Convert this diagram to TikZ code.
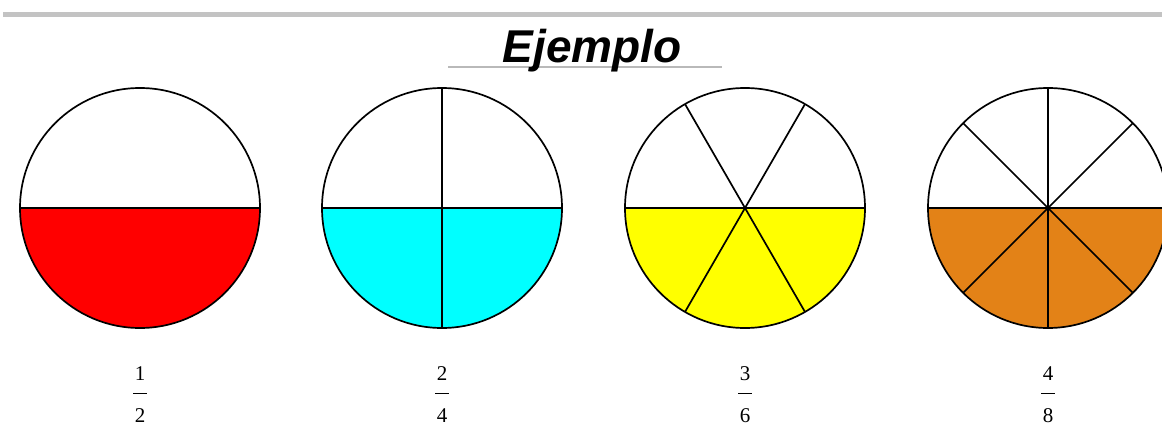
\documentclass[tikz,border=0pt]{standalone}
\usepackage{fontspec}
\setmainfont{Liberation Serif}
\newfontfamily\titlefont{Liberation Sans}
\definecolor{barGray}{RGB}{195,195,195}
\definecolor{lineGray}{RGB}{185,185,185}
\definecolor{pieRed}{RGB}{255,0,0}
\definecolor{pieCyan}{RGB}{0,255,255}
\definecolor{pieYellow}{RGB}{255,255,0}
\definecolor{pieOrange}{RGB}{227,130,23}
\begin{document}
\begin{tikzpicture}[x=1pt,y=-1pt,
  rim/.style={draw=black,line width=1.7pt},
  spoke/.style={draw=black,line width=1.7pt},
  numtext/.style={font=\fontsize{21}{21}\selectfont,inner sep=0pt,anchor=base},
  fracbar/.style={draw=black,line width=1pt}]
\useasboundingbox (0,0) rectangle (1162,425);
\clip (0,0) rectangle (1162,425);
% top bar
\fill[barGray] (3,12) rectangle (1162,17);
% title
\draw[lineGray,line width=2.5pt] (448,67) -- (722,67);
\node[font=\titlefont\bfseries\itshape\fontsize{46}{46}\selectfont,inner sep=0pt,anchor=base] (title) at (592,63) {Ejemplo};
% centres
\coordinate (c1) at (140,208);
\coordinate (c2) at (442,208);
\coordinate (c3) at (745,208);
\coordinate (c4) at (1048,208);
% pie 1
\fill[pieRed] (c1) ++(120,0) arc (0:180:120) -- cycle;
\draw[spoke] (c1) ++(-120,0) -- ++(240,0);
\draw[rim] (c1) circle (120);
% pie 2
\fill[pieCyan] (c2) ++(120,0) arc (0:180:120) -- cycle;
\draw[spoke] (c2) ++(-120,0) -- ++(240,0);
\draw[spoke] (c2) ++(0,-120) -- ++(0,240);
\draw[rim] (c2) circle (120);
% pie 3
\fill[pieYellow] (c3) ++(120,0) arc (0:180:120) -- cycle;
\draw[spoke] (c3) ++(-120,0) -- ++(240,0);
\foreach \a in {60,120} {\draw[spoke] (c3) ++(\a:120) -- ++(\a+180:240);}
\draw[rim] (c3) circle (120);
% pie 4
\fill[pieOrange] (c4) ++(120,0) arc (0:180:120) -- cycle;
\draw[spoke] (c4) ++(-120,0) -- ++(240,0);
\foreach \a in {45,90,135} {\draw[spoke] (c4) ++(\a:120) -- ++(\a+180:240);}
\draw[rim] (c4) circle (120);
% fractions
\node[numtext] (n1) at (140,380) {1};
\node[numtext] (d1) at (140,422) {2};
\draw[fracbar] (133,393) -- (147,393);
\node[numtext] (n2) at (442,380) {2};
\node[numtext] (d2) at (442,422) {4};
\draw[fracbar] (435,393) -- (449,393);
\node[numtext] (n3) at (745,380) {3};
\node[numtext] (d3) at (745,422) {6};
\draw[fracbar] (738,393) -- (752,393);
\node[numtext] (n4) at (1048,380) {4};
\node[numtext] (d4) at (1048,422) {8};
\draw[fracbar] (1041,393) -- (1055,393);
\end{tikzpicture}
\end{document}
